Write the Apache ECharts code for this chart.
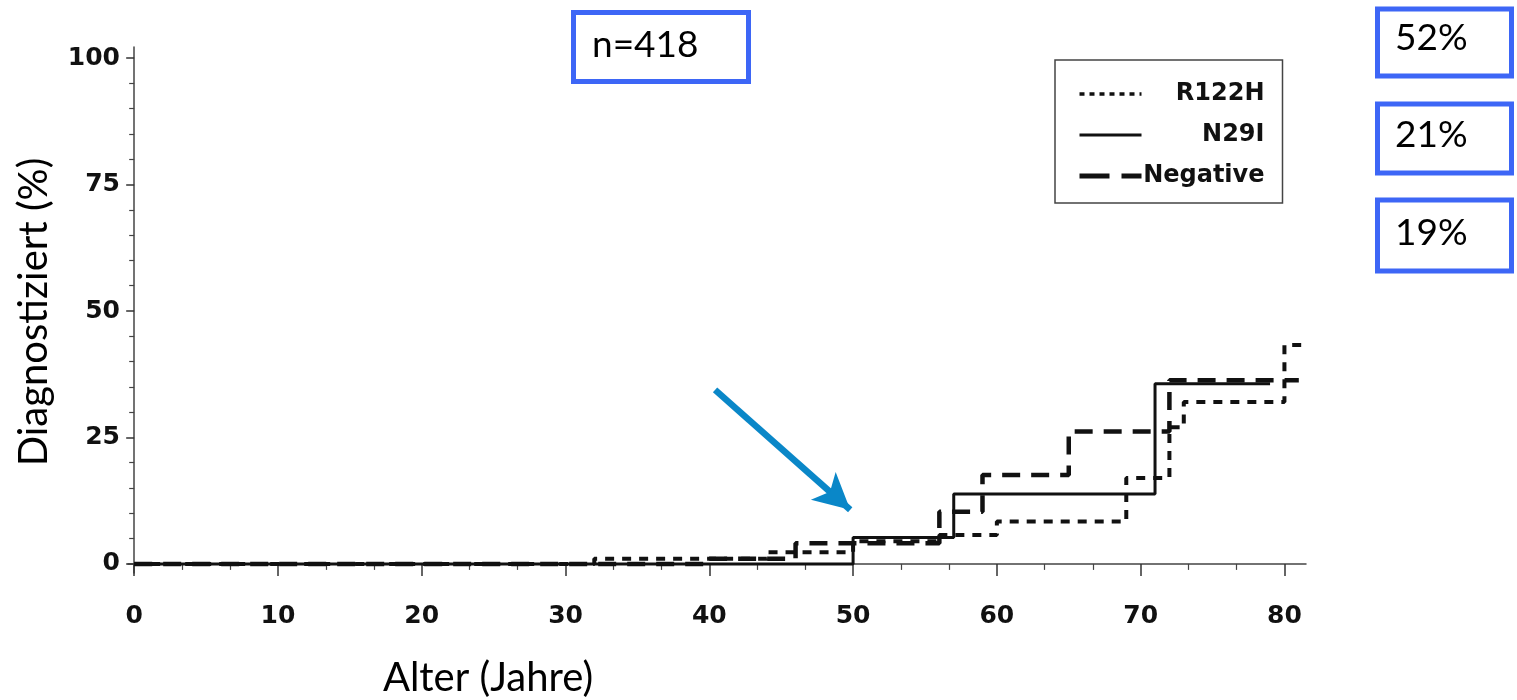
<!DOCTYPE html>
<html><head><meta charset="utf-8">
<script src="https://cdn.jsdelivr.net/npm/echarts@6/dist/echarts.min.js"></script>
<style>html,body{margin:0;padding:0;background:#fff}#c{width:1517px;height:700px}</style>
</head><body><div id="c"></div>
<script>
const seriesNames = ['R122H', 'N29I', 'Negative'];
const r122h = [[0,0],[32,1],[44,2.3],[50,4.5],[56,5.7],[60,8.4],[69,17],[72,27],[73,32],[80,43.3],[81.5,43.3]];
const n29i = [[0,0],[50,5.2],[57,13.8],[71,35.6],[79,35.6]];
const negative = [[0,0],[40,1],[46,4.1],[56,10.3],[59,17.6],[65,26.2],[72,36.3],[81,36.3]];
const xMajorTicks = [0,10,20,30,40,50,60,70,80];
const xMinorTicks = [3.33,6.67,13.33,16.67,23.33,26.67,33.33,36.67,43.33,46.67,53.33,56.67,63.33,66.67,73.33,76.67];
const yMajorTicks = [0,25,50,75,100];
const yMinorTicks = [5,10,15,20,30,35,40,45,55,60,65,70,80,85,90,95];
const arrowFrom = [40.4, 34.4];
const arrowTo = [49.8, 10.7];
const xTitle = 'Alter (Jahre)';
const yTitle = 'Diagnostiziert (%)';
const nText = 'n=418';
const pctTexts = ['52%', '21%', '19%'];

const X_MIN = -0.43, X_MAX = 81.5, Y_MIN = -1.8, Y_MAX = 102.2;
const ink = '#111';
const boxBlue = '#3d66f6';
const labelFont = { fontFamily: 'DejaVu Sans', fontWeight: 'bold', fontSize: 25, color: ink };
const calibri = 'Lato';

const chart = echarts.init(document.getElementById('c'), null, { renderer: 'canvas' });

function box(x, y, w, h, text, tx, ty) {
  return {
    type: 'group',
    children: [
      { type: 'rect', shape: { x: x, y: y, width: w, height: h }, style: { fill: '#fff', stroke: boxBlue, lineWidth: 5 } },
      { type: 'text', x: tx, y: ty, style: { text: text, font: '37px ' + calibri, fill: '#000', textVerticalAlign: 'bottom' } }
    ]
  };
}

const option = {
  animation: false,
  backgroundColor: '#fff',
  grid: { left: 128, right: 211, top: 47, bottom: 127, containLabel: false, outerBoundsMode: 'none' },
  xAxis: [
    {
      type: 'value', position: 'bottom', min: X_MIN, max: X_MAX,
      axisLine: { show: true, lineStyle: { color: '#444', width: 1.5 } },
      axisTick: { show: true, customValues: xMajorTicks, length: 12, lineStyle: { color: '#333', width: 1.5 } },
      axisLabel: Object.assign({ customValues: xMajorTicks, margin: 31 }, labelFont),
      splitLine: { show: false }
    },
    {
      type: 'value', position: 'bottom', min: X_MIN, max: X_MAX,
      axisLine: { show: false },
      axisTick: { show: true, customValues: xMinorTicks, length: 6, lineStyle: { color: '#444', width: 1.2 } },
      axisLabel: { show: false },
      splitLine: { show: false }
    }
  ],
  yAxis: [
    {
      type: 'value', position: 'left', min: Y_MIN, max: Y_MAX,
      axisLine: { show: true, lineStyle: { color: '#444', width: 1.5 } },
      axisTick: { show: true, customValues: yMajorTicks, length: 8, lineStyle: { color: '#333', width: 1.5 } },
      axisLabel: Object.assign({ customValues: yMajorTicks, margin: 8 }, labelFont),
      splitLine: { show: false }
    },
    {
      type: 'value', position: 'left', min: Y_MIN, max: Y_MAX,
      axisLine: { show: false },
      axisTick: { show: true, customValues: yMinorTicks, length: 5, lineStyle: { color: '#444', width: 1.2 } },
      axisLabel: { show: false },
      splitLine: { show: false }
    }
  ],
  legend: {
    orient: 'vertical', left: 1055, top: 60,
    padding: [22, 18, 15, 22],
    borderColor: '#444', borderWidth: 1.5,
    itemWidth: 62, itemHeight: 14, itemGap: 17,
    itemStyle: { opacity: 0 },
    data: [
      { name: seriesNames[0], lineStyle: { type: [5, 5], width: 3.5 } },
      { name: seriesNames[1], lineStyle: { type: 'solid', width: 3 } },
      { name: seriesNames[2], lineStyle: { type: [30, 12], width: 5 } }
    ],
    formatter: function (n) { return '{t|' + n + '}'; },
    textStyle: {
      rich: { t: { width: 118, align: 'right', fontFamily: 'DejaVu Sans', fontWeight: 'bold', fontSize: 24, color: ink, lineHeight: 28 } }
    }
  },
  series: [
    {
      name: seriesNames[0], type: 'line', step: 'end', data: r122h,
      showSymbol: false, symbol: 'none', z: 3,
      itemStyle: { color: ink },
      lineStyle: { color: ink, width: 4, type: [9, 8] }
    },
    {
      name: seriesNames[1], type: 'line', step: 'end', data: n29i,
      showSymbol: false, symbol: 'none', z: 4,
      itemStyle: { color: ink },
      lineStyle: { color: ink, width: 3, type: 'solid' },
      markLine: {
        silent: true, animation: false,
        symbol: ['none', 'arrow'], symbolSize: [28, 36],
        label: { show: false },
        lineStyle: { color: '#0a87c8', width: 6.5, type: 'solid' },
        data: [[{ coord: arrowFrom }, { coord: arrowTo }]]
      }
    },
    {
      name: seriesNames[2], type: 'line', step: 'end', data: negative,
      showSymbol: false, symbol: 'none', z: 3,
      itemStyle: { color: ink },
      lineStyle: { color: ink, width: 4.5, type: [18, 11] }
    }
  ],
  graphic: [
    { type: 'text', x: 488, y: 678, style: { text: xTitle, font: '40px ' + calibri, fill: '#000', textAlign: 'center', textVerticalAlign: 'middle' } },
    { type: 'text', x: 34, y: 312, rotation: Math.PI / 2, style: { text: yTitle, font: '40px ' + calibri, fill: '#000', textAlign: 'center', textVerticalAlign: 'middle' } },
    box(573.5, 12.5, 175, 69, nText, 592, 64),
    box(1377.5, 9, 134, 67, pctTexts[0], 1395, 57),
    box(1377.5, 104, 134, 69, pctTexts[1], 1395, 154),
    box(1377.5, 200, 134, 71, pctTexts[2], 1395, 252)
  ]
};
chart.setOption(option);
</script>
</body></html>
